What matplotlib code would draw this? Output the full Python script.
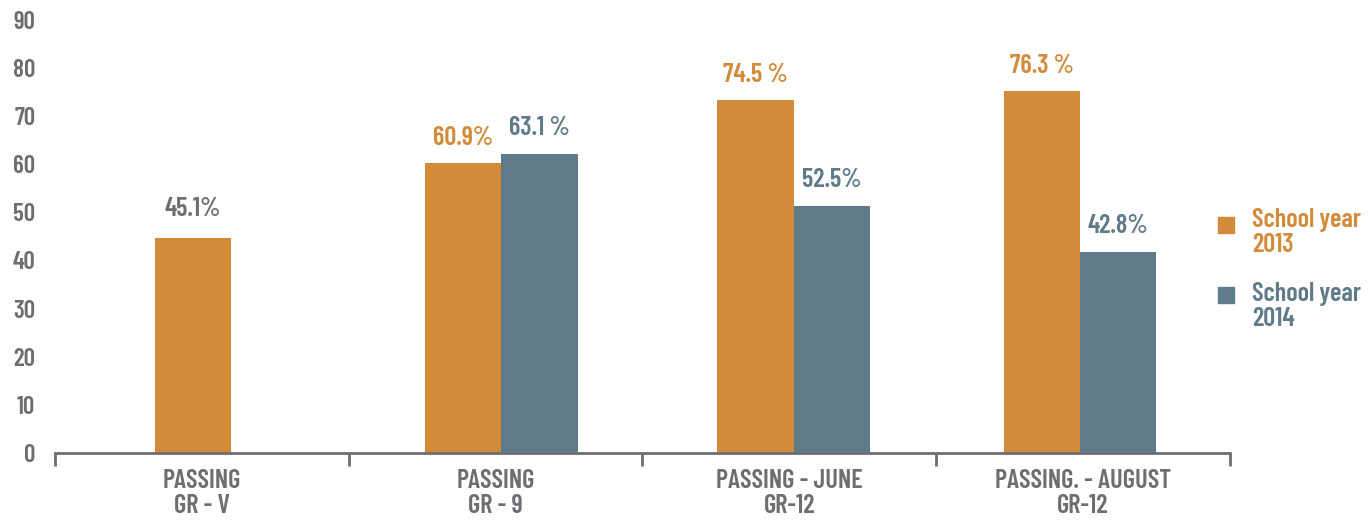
import matplotlib
matplotlib.use("Agg")
import matplotlib.pyplot as plt
from matplotlib.patches import Rectangle

categories = ["PASSING\nGR - V", "PASSING\nGR - 9", "PASSING - JUNE\nGR-12", "PASSING. - AUGUST\nGR-12"]
series_names = ["School year\n2013", "School year\n2014"]
values_2013 = [44.7, 60.3, 73.4, 75.3]
values_2014 = [None, 62.2, 51.4, 41.8]
labels_2013 = ["45.1%", "60.9%", "74.5 %", "76.3 %"]
labels_2014 = [None, "63.1 %", "52.5%", "42.8%"]
yticks = [0, 10, 20, 30, 40, 50, 60, 70, 80, 90]

ORANGE = "#D38B3A"
SLATE = "#5F7B89"
GRAY = "#6D6E71"
FONT = ["Barlow Condensed", "DejaVu Sans"]
FW = 600

fig = plt.figure(figsize=(13.71, 5.23), dpi=100)
ax = fig.add_axes([0.040, 0.134, 0.857, 0.828])

w = 0.26
offsets = [-0.03, 0.02, 0.015, -0.01]
for i, cat in enumerate(categories):
    v13 = values_2013[i]
    v14 = values_2014[i]
    if v14 is None:
        x13 = i + offsets[i]
        ax.bar(x13, v13, width=w, color=ORANGE)
        ax.annotate(labels_2013[i], (x13, v13), xytext=(0, 12), textcoords="offset points",
                    ha="center", va="bottom", color=GRAY, fontsize=19, family=FONT, weight=FW)
    else:
        x13 = i - w / 2 + offsets[i]
        x14 = i + w / 2 + offsets[i]
        ax.bar(x13, v13, width=w, color=ORANGE)
        ax.bar(x14, v14, width=w, color=SLATE)
        ax.annotate(labels_2013[i], (x13, v13), xytext=(0, 9), textcoords="offset points",
                    ha="center", va="bottom", color=ORANGE, fontsize=19, family=FONT, weight=FW)
        ax.annotate(labels_2014[i], (x14, v14), xytext=(0, 10), textcoords="offset points",
                    ha="center", va="bottom", color=SLATE, fontsize=19, family=FONT, weight=FW)

ax.set_xlim(-0.5, len(categories) - 0.5)
ax.set_ylim(0, 90)
ax.set_yticks(yticks)
ax.set_yticklabels([str(t) for t in yticks], family=FONT, fontsize=18, color=GRAY, weight=FW)
ax.tick_params(axis="y", length=0, pad=14)

ax.set_xticks([i - 0.5 for i in range(len(categories) + 1)])
ax.set_xticklabels([])
ax.tick_params(axis="x", length=9, width=2, color=GRAY, direction="out")
for i, cat in enumerate(categories):
    ax.text(i, -3.3, cat, ha="center", va="top", color=GRAY, fontsize=19, family=FONT,
            weight=FW, linespacing=1.07)

for s in ["top", "right", "left"]:
    ax.spines[s].set_visible(False)
ax.spines["bottom"].set_color(GRAY)
ax.spines["bottom"].set_linewidth(2)

# legend
for j, (name, col) in enumerate(zip(series_names, [ORANGE, SLATE])):
    ytop = 217 + j * 70
    fig.patches.append(Rectangle((1218 / 1371, 1 - (ytop + 16) / 523), 16 / 1371, 16 / 523,
                                 transform=fig.transFigure, color=col))
    fig.text(1252 / 1371, 1 - (208 + j * 74) / 523, name, ha="left", va="top", color=col,
             fontsize=19, family=FONT, weight=FW, linespacing=1.07)

fig.savefig("out.png", dpi=100)
